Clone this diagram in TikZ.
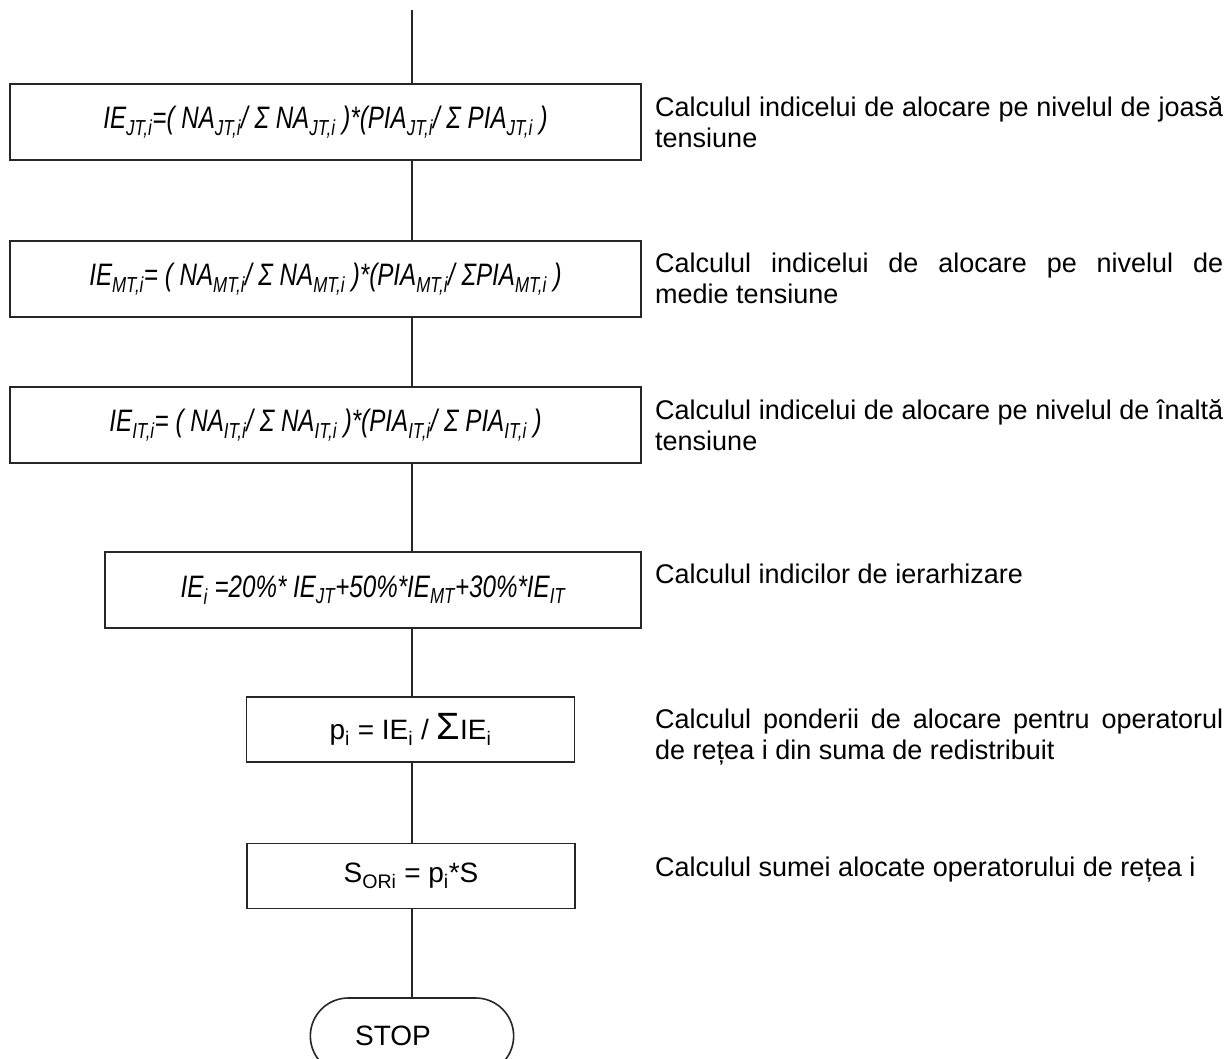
\documentclass[tikz,border=0pt]{standalone}
\usepackage{fontspec}
\setmainfont{Liberation Sans}
\newfontfamily\formfont[FakeStretch=0.78]{Liberation Sans}
\usetikzlibrary{positioning}
\usetikzlibrary{shapes.misc}
\newcommand{\lo}[1]{\textsubscript{#1}}

\begin{document}
\hyphenpenalty=10000\relax
\begin{tikzpicture}[x=1pt,y=-1pt,
  flow/.style={draw=black!85,line width=1.6pt},
  calcbox/.style={rectangle,draw=black!85,line width=1.6pt,inner sep=0pt,font=\formfont\itshape\fontsize{31}{33}\selectfont},
  plainbox/.style={rectangle,draw=black!85,line width=1.6pt,inner sep=0pt,minimum width=328pt,minimum height=65pt,font=\fontsize{28}{30}\selectfont},
  note/.style={anchor=north west,inner sep=0pt,text width=568pt,align=justify,font=\fontsize{27}{31}\selectfont,
    execute at begin node={\spaceskip=0.278em plus 0.5em\relax}}]
\useasboundingbox (0,0) rectangle (1227,1059);

\coordinate (top) at (412,10);

\node[calcbox,minimum width=631pt,minimum height=76pt] (iejt) at (325.5,122) {IE\lo{JT,i}=( NA\lo{JT,i}/ Σ NA\lo{JT,i} )*(PIA\lo{JT,i}/ Σ PIA\lo{JT,i} )};
\node[calcbox,minimum width=631pt,minimum height=76pt] (iemt) at (325.5,279) {IE\lo{MT,i}= ( NA\lo{MT,i}/ Σ NA\lo{MT,i} )*(PIA\lo{MT,i}/ ΣPIA\lo{MT,i} )};
\node[calcbox,minimum width=631pt,minimum height=76pt] (ieit) at (325.5,425) {IE\lo{IT,i}= ( NA\lo{IT,i}/ Σ NA\lo{IT,i} )*(PIA\lo{IT,i}/ Σ PIA\lo{IT,i} )};
\node[calcbox,minimum width=536pt,minimum height=76pt] (iei) at (373,590) {IE\lo{i} =20\%* IE\lo{JT}+50\%*IE\lo{MT}+30\%*IE\lo{IT}};
\node[plainbox] (pond) at (410.5,729.5) {p\lo{i} = IE\lo{i} / {\fontsize{38}{38}\selectfont Σ}IE\lo{i}};
\node[plainbox] (suma) at (411,876) {S\lo{ORi} = p\lo{i}*S};
\node[rounded rectangle,draw=black!85,line width=1.6pt,minimum width=210pt,minimum height=76pt,
  label={[font=\fontsize{28}{30}\selectfont,xshift=-19pt]center:STOP}] (stop) at (412,1036) {};

\draw[flow] (top) -- (iejt.north -| top);
\draw[flow] (iejt.south -| top) -- (iemt.north -| top);
\draw[flow] (iemt.south -| top) -- (ieit.north -| top);
\draw[flow] (ieit.south -| top) -- (iei.north -| top);
\draw[flow] (iei.south -| top) -- (pond.north -| top);
\draw[flow] (pond.south -| top) -- (suma.north -| top);
\draw[flow] (suma.south -| top) -- (stop.north);

\node[note] (njt) at (655,96) {Calculul indicelui de alocare pe nivelul de joasă tensiune};
\node[note] (nmt) at (655,253) {Calculul indicelui de alocare pe nivelul de medie tensiune};
\node[note] (nit) at (655,399) {Calculul indicelui de alocare pe nivelul de înaltă tensiune};
\node[note] (nie) at (655,564) {Calculul indicilor de ierarhizare};
\node[note] (npo) at (655,709) {Calculul ponderii de alocare pentru operatorul de rețea i din suma de redistribuit};
\node[note] (nsu) at (655,857) {Calculul sumei alocate operatorului de rețea i};

\end{tikzpicture}
\end{document}
